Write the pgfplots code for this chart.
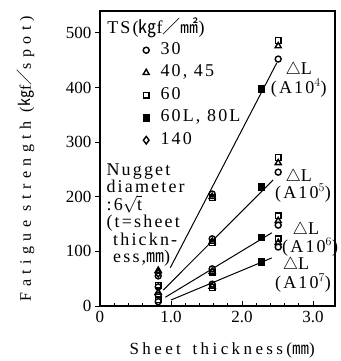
\documentclass[border=0pt]{standalone}
\usepackage{pgfplots}
\pgfplotsset{compat=1.18}
\usepackage{fontspec}
\setmainfont{Liberation Serif}
\newfontfamily\lblfont[LetterSpace=34]{Liberation Serif}
\newfontfamily\xlblfont[LetterSpace=20]{Liberation Serif}
\newfontfamily\txtfont[LetterSpace=12]{Liberation Serif}
\newfontfamily\cjk{Noto Sans CJK JP}
\newcommand{\fs}{\fontsize{18}{17.5}\selectfont}
\newcommand{\ft}{\fontsize{17}{18}\selectfont}
\newcommand{\fl}{\fontsize{16}{18}\selectfont}
\begin{document}
\begin{tikzpicture}
\begin{axis}[
  scale only axis, width=235pt, height=295pt,
  xmin=0, xmax=3.31, ymin=0, ymax=540,
  xtick={0,1,2,3}, xticklabels={0,1.0,2.0,3.0},
  minor x tick num=4,
  ytick={0,100,200,300,400,500},
  xtick pos=lower, ytick pos=left,
  x tick style={black, line width=0.9pt},
  y tick style={black, line width=0.9pt},
  xtick align=inside, ytick align=outside,
  major tick length=5pt, minor tick length=3.5pt,
  axis line style={line width=1.2pt},
  /pgf/number format/assume math mode=true,
  tick label style={font=\ft},
  xticklabel style={yshift=-2pt},
  xlabel={{\xlblfont Sheet\hspace{4pt} thickness({\cjk ㎜})}},
  ylabel={{\lblfont Fatigue strength ({\cjk ㎏}f{\cjk ／}spot)}},
  xlabel style={font=\ft, at={(axis description cs:0.52,-0.149)}, anchor=center},
  ylabel style={font=\fl, at={(axis description cs:-0.315,0.5)}, anchor=center},
  legend style={draw=none, fill=none, font=\fs\txtfont,
    at={(rel axis cs:0.169,0.905)}, anchor=north west,
    row sep=4.5pt,
    /tikz/every odd column/.append style={column sep=9pt},
    nodes={text height=11pt, text depth=3pt, inner sep=2pt}},
  legend cell align=left,
  clip=false,
]
% fitted lines
\addplot[black, line width=1pt, forget plot] coordinates {(0.99,70) (2.49,445)};
\addplot[black, line width=1pt, forget plot] coordinates {(0.89,29) (2.44,231)};
\addplot[black, line width=1pt, forget plot] coordinates {(0.92,16) (2.42,134)};
\addplot[black, line width=1pt, forget plot] coordinates {(1.0,11) (2.42,88)};
% TS 30
\addplot[only marks, mark=o, mark size=3pt, black, line width=1.4pt] coordinates {
 (0.82,55) (0.82,35) (0.82,20) (0.82,8)
 (1.58,205) (1.58,123) (1.58,68) (1.58,40)
 (2.51,452) (2.51,245) (2.51,148) (2.51,108)};
\addlegendentry{30}
% TS 40,45
\addplot[only marks, mark=triangle, mark size=3.5pt, black, line width=1.4pt] coordinates {
 (0.82,65) (0.82,25)
 (1.58,200) (1.58,118) (1.58,63) (1.58,36)
 (2.51,476) (2.51,262) (2.51,156) (2.51,116)};
\addlegendentry{40, 45}
% TS 60
\addplot[only marks, mark=square, mark size=2.8pt, black, line width=1.4pt] coordinates {
 (0.82,12) (0.82,38)
 (1.58,198) (1.58,116) (1.58,62) (1.58,34)
 (2.51,486) (2.51,272) (2.51,165) (2.51,123)};
\addlegendentry{60}
% TS 60L, 80L
\addplot[only marks, mark=square*, mark size=3.3pt, black] coordinates {
 (2.27,398) (2.27,218) (2.27,126) (2.27,81)};
\addlegendentry{60L, 80L}
% TS 140
\addplot[only marks, mark=diamond, mark size=3.8pt, black, line width=1.4pt] coordinates {
 (0.82,60)};
\addlegendentry{140}
% texts
\node[anchor=west, font=\fs\txtfont, inner sep=0pt] at (axis cs:0.10,509) {TS({\cjk ㎏}f{\cjk ／}{\cjk ㎟})};
\node[anchor=north west, align=left, font=\fs\txtfont, inner sep=0pt] at (axis cs:0.09,261)
 {Nugget\\diameter\\:6$\sqrt{\mathrm{t}}$\\(t=sheet\\\ thickn-\\\ ess,{\cjk ㎜})};
\node[font=\fs\txtfont, inner sep=0pt] at (axis cs:2.80,432) {$\triangle$L};
\node[font=\fs\txtfont, inner sep=0pt] at (axis cs:2.80,399) {(A10$^{4}$)};
\node[font=\fs\txtfont, inner sep=0pt] at (axis cs:2.80,236) {$\triangle$L};
\node[font=\fs\txtfont, inner sep=0pt] at (axis cs:2.86,207) {(A10$^{5}$)};
\node[font=\fs\txtfont, inner sep=0pt] at (axis cs:2.90,139) {$\triangle$L};
\node[font=\fs\txtfont, inner sep=0pt] at (axis cs:2.96,108) {(A10$^{6}$)};
\node[font=\fs\txtfont, inner sep=0pt] at (axis cs:2.76,75) {$\triangle$L};
\node[font=\fs\txtfont, inner sep=0pt] at (axis cs:2.86,42) {(A10$^{7}$)};
\end{axis}
\pgfresetboundingbox
\path ([shift={(-100pt,-55pt)}]current axis.south west) rectangle ([shift={(5pt,11pt)}]current axis.north east);
\end{tikzpicture}
\end{document}
